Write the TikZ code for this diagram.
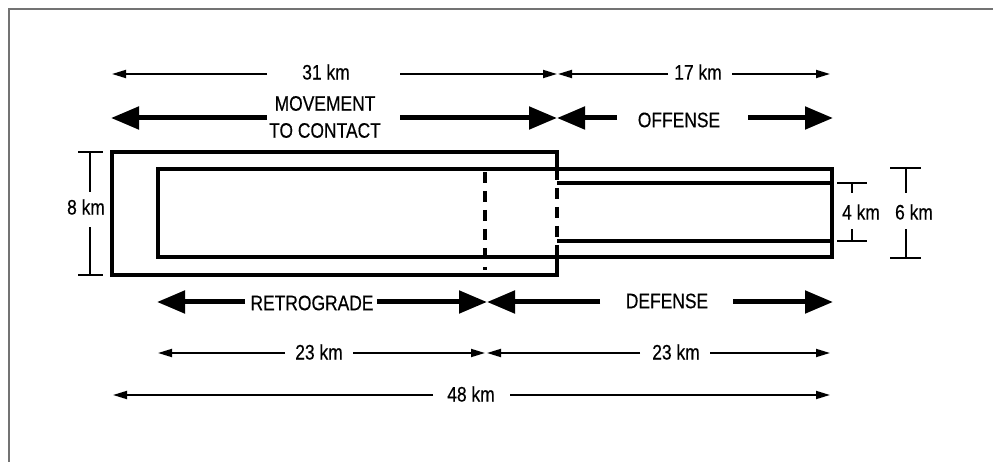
\documentclass[tikz,border=0pt]{standalone}
\usepackage{fontspec}
\setmainfont{Liberation Sans}[FakeStretch=0.83, FakeBold=0.4]
\usetikzlibrary{arrows.meta}

\begin{document}
\begin{tikzpicture}[
  x=1pt, y=-1pt,
  lbl/.style={inner sep=0pt, font=\fontsize{21}{27}\selectfont, align=center},
  dimline/.style={-{Triangle[length=14pt, width=8pt]}, line width=1.8pt},
  zoneline/.style={-{Triangle[length=28pt, width=22pt]}, line width=5pt},
  area/.style={line width=3.8pt},
  dashedarea/.style={line width=3.8pt, dash pattern=on 11pt off 8pt},
  bar/.style={line width=1.6pt}
]
\useasboundingbox (0,0) rectangle (993,462);
% frame
\draw[black!55, line width=1.5pt] (9,462) -- (9,9) -- (993,9);

% areas
\draw[area] (557,169) -- (557,152) -- (112,152) -- (112,275) -- (557,275) -- (557,257);
\draw[area] (158,169) rectangle (832,257);
\draw[area] (557,183) -- (832,183);
\draw[area] (557,241) -- (832,241);
\draw[dashedarea] (557,169) -- (557,257);
\draw[dashedarea] (485,172) -- (485,270);

% top labels
\node[lbl] (km31) at (326,72) {31 km};
\node[lbl] (km17) at (698,72) {17 km};
\node[lbl] (mtc) at (325,117) {MOVEMENT\\TO CONTACT};
\node[lbl] (offense) at (679,120) {OFFENSE};

\coordinate (km31a) at (112,74);
\coordinate (km31b) at (267,74);
\coordinate (km31c) at (400,74);
\coordinate (km31d) at (557,74);
\draw[dimline] (km31b) -- (km31a);
\draw[dimline] (km31c) -- (km31d);

\coordinate (km17a) at (558,74);
\coordinate (km17b) at (668,74);
\coordinate (km17c) at (732,74);
\coordinate (km17d) at (830,74);
\draw[dimline] (km17b) -- (km17a);
\draw[dimline] (km17c) -- (km17d);

\coordinate (mtca) at (111,118);
\coordinate (mtcb) at (267,118);
\coordinate (mtcc) at (400,118);
\coordinate (mtcd) at (557,118);
\draw[zoneline] (mtcb) -- (mtca);
\draw[zoneline] (mtcc) -- (mtcd);

\coordinate (offa) at (557,118);
\coordinate (offb) at (617,118);
\coordinate (offc) at (748,118);
\coordinate (offd) at (833,118);
\draw[zoneline] (offb) -- (offa);
\draw[zoneline] (offc) -- (offd);

% bottom labels
\node[lbl] (retro) at (312,303) {RETROGRADE};
\node[lbl] (defense) at (667,301) {DEFENSE};
\node[lbl] (km23l) at (319,352) {23 km};
\node[lbl] (km23r) at (676,352) {23 km};
\node[lbl] (km48) at (471,394) {48 km};

\coordinate (reta) at (157,302);
\coordinate (retb) at (245,302);
\coordinate (retc) at (377,302);
\coordinate (retd) at (487,302);
\draw[zoneline] (retb) -- (reta);
\draw[zoneline] (retc) -- (retd);

\coordinate (defa) at (487,302);
\coordinate (defb) at (600,302);
\coordinate (defc) at (733,302);
\coordinate (defd) at (833,302);
\draw[zoneline] (defb) -- (defa);
\draw[zoneline] (defc) -- (defd);

\coordinate (kla) at (158,353);
\coordinate (klb) at (285,353);
\coordinate (klc) at (353,353);
\coordinate (kld) at (485,353);
\draw[dimline] (klb) -- (kla);
\draw[dimline] (klc) -- (kld);

\coordinate (kra) at (487,353);
\coordinate (krb) at (640,353);
\coordinate (krc) at (710,353);
\coordinate (krd) at (830,353);
\draw[dimline] (krb) -- (kra);
\draw[dimline] (krc) -- (krd);

\coordinate (k48a) at (113,395);
\coordinate (k48b) at (433,395);
\coordinate (k48c) at (510,395);
\coordinate (k48d) at (830,395);
\draw[dimline] (k48b) -- (k48a);
\draw[dimline] (k48c) -- (k48d);

% side dimensions
\node[lbl] (km8) at (86,207) {8 km};
\draw[bar] (78,152) -- (103,152) (90,152) -- (90,192);
\draw[bar] (78,275) -- (103,275) (90,275) -- (90,227);

\node[lbl] (km4) at (861,212) {4 km};
\draw[bar] (837,183) -- (867,183) (852,183) -- (852,193);
\draw[bar] (837,241) -- (867,241) (852,241) -- (852,229);

\node[lbl] (km6) at (914,212) {6 km};
\draw[bar] (890,168) -- (921,168) (906,168) -- (906,193);
\draw[bar] (890,258) -- (921,258) (906,258) -- (906,229);
\end{tikzpicture}
\end{document}
